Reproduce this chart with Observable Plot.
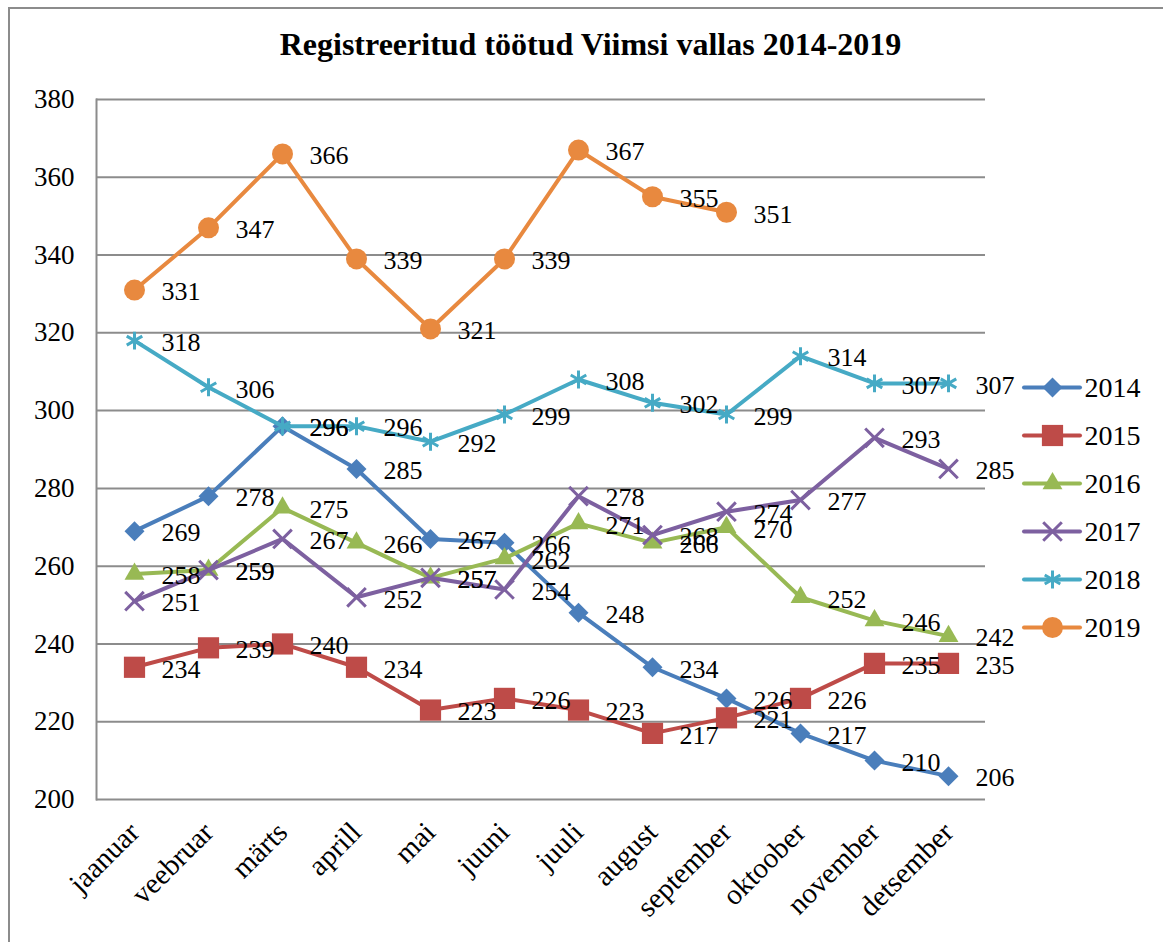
<!DOCTYPE html>
<html>
<head>
<meta charset="utf-8">
<script src="https://cdn.jsdelivr.net/npm/d3@7"></script>
<script src="https://cdn.jsdelivr.net/npm/@observablehq/plot@0.6"></script>
<style>
  html, body { margin: 0; padding: 0; background: #fff; overflow: hidden; width: 1163px; height: 942px; }
  #frame { position: absolute; left: 8px; top: 7px; width: 1300px; height: 1100px; border-left: 2px solid #8c8c8c; border-top: 2px solid #8c8c8c; }
  #title { position: absolute; left: 0; top: 26px; width: 1181px; text-align: center; font-family: "Liberation Serif", serif; font-weight: bold; font-size: 32px; color: #000; }
  #chart { position: absolute; left: 0; top: 80px; }
  #legend { position: absolute; left: 1020px; top: 366px; }
</style>
</head>
<body>
<div id="frame"></div>
<div id="title">Registreeritud töötud Viimsi vallas 2014-2019</div>
<div id="chart"></div>
<div id="legend"></div>
<script>
const months = ["jaanuar","veebruar","märts","aprill","mai","juuni","juuli","august","september","oktoober","november","detsember"];
const years = ["2014","2015","2016","2017","2018","2019"];
const v2014 = [269, 278, 296, 285, 267, 266, 248, 234, 226, 217, 210, 206];
const v2015 = [234, 239, 240, 234, 223, 226, 223, 217, 221, 226, 235, 235];
const v2016 = [258, 259, 275, 266, 257, 262, 271, 266, 270, 252, 246, 242];
const v2017 = [251, 259, 267, 252, 257, 254, 278, 268, 274, 277, 293, 285];
const v2018 = [318, 306, 296, 296, 292, 299, 308, 302, 299, 314, 307, 307];
const v2019 = [331, 347, 366, 339, 321, 339, 367, 355, 351];
const yTicks = [200, 220, 240, 260, 280, 300, 320, 340, 360, 380];

const colors = ["#4a7ebb", "#be4b48", "#98b954", "#7d60a0", "#46aac5", "#e8893f"];
const symbols = ["diamond2", "square2", "triangle2", "times", "asterisk", "circle"];
const radii = [9, 13.5, 9.5, 8.5, 8.5, 10.5];
const filled = [true, true, true, false, false, true];

const valueLists = [v2014, v2015, v2016, v2017, v2018, v2019];
const seriesData = years.map((yr, i) => valueLists[i].map((v, j) => ({year: yr, month: months[j], value: v})));
const allData = seriesData.flat();
const font = "'Liberation Serif', 'Times New Roman', serif";

const marks = [
  Plot.gridY(yTicks, {stroke: "#8c8c8c", strokeOpacity: 1, strokeWidth: 2}),
  Plot.frame({anchor: "left", stroke: "#8c8c8c", strokeWidth: 2}),
  Plot.axisY(yTicks, {tickSize: 0, tickPadding: 22, fontSize: 27, fontFamily: font, fill: "#000"}),
  Plot.axisX({tickRotate: -45, tickSize: 0, tickPadding: 28, fontSize: 29, fontFamily: font, fill: "#000"})
];
seriesData.forEach((d, i) => {
  marks.push(Plot.line(d, {x: "month", y: "value", stroke: colors[i], strokeWidth: 4, strokeLinejoin: "round", strokeLinecap: "round"}));
  marks.push(Plot.dot(d, filled[i]
    ? {x: "month", y: "value", symbol: () => symbols[i], r: radii[i], fill: colors[i], stroke: "none"}
    : {x: "month", y: "value", symbol: () => symbols[i], r: radii[i], fill: "none", stroke: colors[i], strokeWidth: 3}));
});
marks.push(Plot.text(allData, {x: "month", y: "value", text: d => String(d.value), dx: 27, dy: 2, textAnchor: "start", fontSize: 26, fontFamily: font, fill: "#000"}));

const chart = Plot.plot({
  width: 1163,
  height: 862,
  marginTop: 19,
  marginBottom: 143,
  marginLeft: 96,
  marginRight: 178,
  style: {background: "transparent", overflow: "visible"},
  x: {type: "point", domain: months, padding: 0.5, label: null},
  y: {domain: [200, 380], label: null},
  symbol: {type: "identity"},
  marks
});
document.getElementById("chart").appendChild(chart);

// legend
const legendData = years.map((yr, i) => ({year: yr, i}));
const lmarks = [];
legendData.forEach((d, i) => {
  lmarks.push(Plot.ruleY([d], {y: "year", x1: 4, x2: 60, stroke: colors[i], strokeWidth: 4, strokeLinecap: "round"}));
  lmarks.push(Plot.dot([d], filled[i]
    ? {x: () => 32, y: "year", symbol: () => symbols[i], r: radii[i], fill: colors[i], stroke: "none"}
    : {x: () => 32, y: "year", symbol: () => symbols[i], r: radii[i], fill: "none", stroke: colors[i], strokeWidth: 3}));
});
lmarks.push(Plot.text(legendData, {x: () => 64, y: "year", text: "year", textAnchor: "start", fontSize: 28, fontFamily: font, fill: "#000", dy: 1}));
const legend = Plot.plot({
  width: 143,
  height: 300,
  marginTop: 20,
  marginBottom: 39,
  marginLeft: 0,
  marginRight: 0,
  style: {background: "transparent", overflow: "visible"},
  x: {domain: [0, 143], axis: null},
  y: {type: "point", domain: years, padding: 0, axis: null},
  symbol: {type: "identity"},
  marks: lmarks
});
document.getElementById("legend").appendChild(legend);
</script>
</body>
</html>
